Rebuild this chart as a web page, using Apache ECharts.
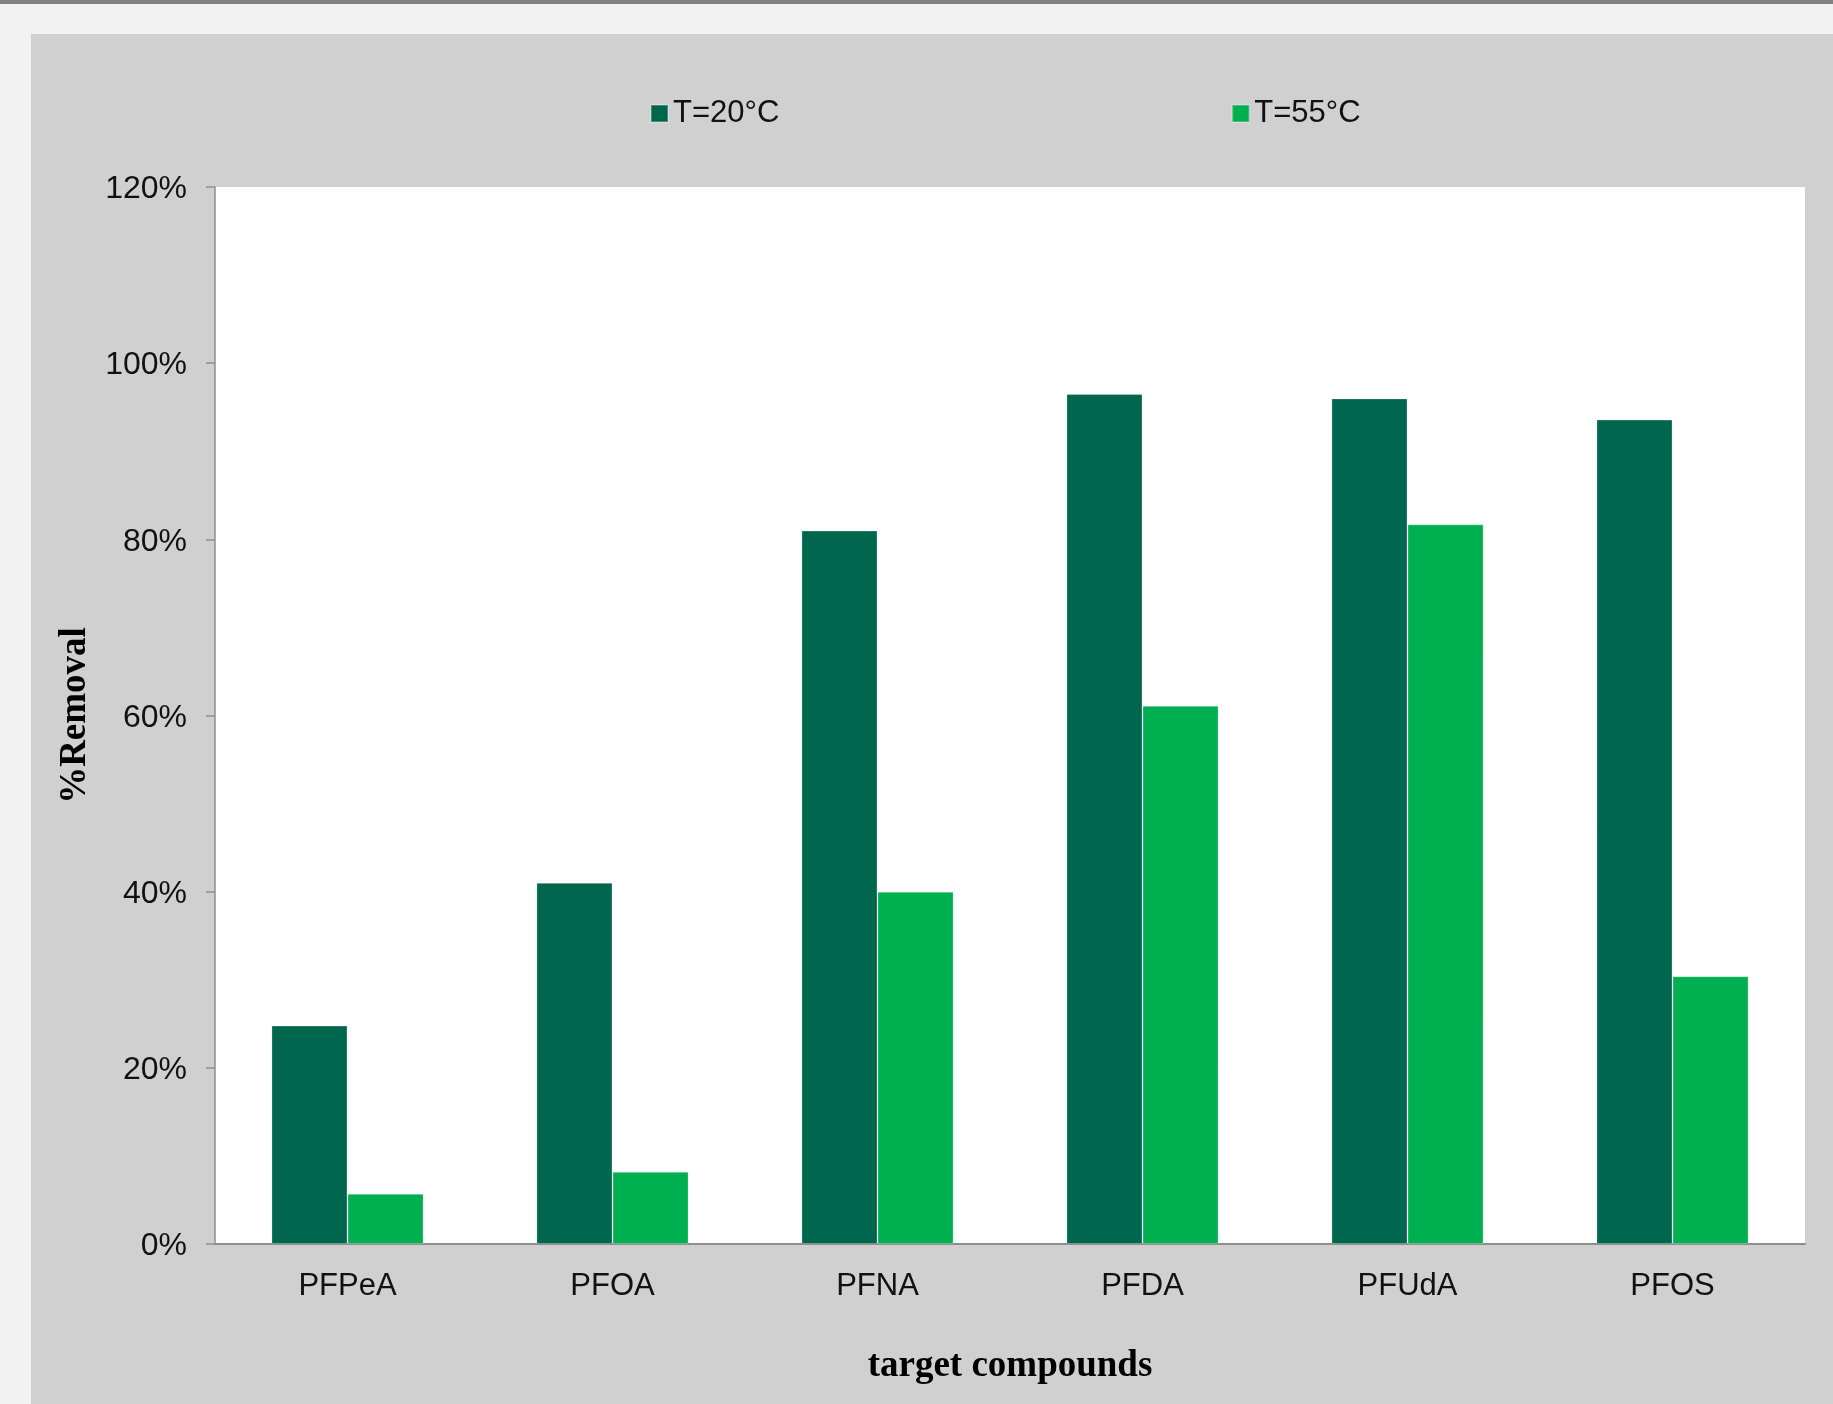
<!DOCTYPE html>
<html>
<head>
<meta charset="utf-8">
<script src="https://cdn.jsdelivr.net/npm/echarts@6/dist/echarts.min.js"></script>
<style>
  html, body { margin: 0; padding: 0; background: #f2f2f2; width: 1833px; height: 1404px; overflow: hidden; }
  #topbar { position: absolute; left: 0; top: 0; width: 1833px; height: 4px; background: #828282; }
  #chart { position: absolute; left: 31px; top: 34px; width: 1802px; height: 1370px; background: #d0d0d0; }
</style>
</head>
<body>
<div id="topbar"></div>
<div id="chart"></div>
<script>
// Compounds on the x axis
const compounds = ['PFPeA', 'PFOA', 'PFNA', 'PFDA', 'PFUdA', 'PFOS'];
// Removal (%) at each temperature
const removal20 = [24.8, 41.0, 81.0, 96.5, 96.0, 93.6];
const removal55 = [5.7, 8.2, 40.0, 61.1, 81.7, 30.4];
// Series names
const seriesNames = ['T=20°C', 'T=55°C'];
// Y axis range (percent)
const yMin = 0, yMax = 120, yStep = 20;

const sans = "'Liberation Sans', Arial, sans-serif";
const serif = "'Liberation Serif', 'Times New Roman', serif";
const axisGray = '#8e8e8e';

const chart = echarts.init(document.getElementById('chart'));
chart.setOption({
  backgroundColor: 'transparent',
  animation: false,
  legend: {
    left: 614,
    top: 59,
    itemWidth: 17,
    itemHeight: 17,
    itemGap: 452,
    icon: 'rect',
    textStyle: { fontFamily: sans, fontSize: 31, color: '#111' },
    data: seriesNames
  },
  grid: {
    left: 184, top: 153, right: 28, bottom: 160,
    show: true, backgroundColor: '#ffffff', borderWidth: 0
  },
  xAxis: {
    type: 'category',
    data: compounds,
    name: 'target compounds',
    nameLocation: 'middle',
    nameGap: 104,
    nameTextStyle: { fontFamily: serif, fontWeight: 'bold', fontSize: 37, color: '#000' },
    axisLine: { lineStyle: { color: axisGray, width: 2 } },
    axisTick: { show: false },
    axisLabel: { fontFamily: sans, fontSize: 31, color: '#111', margin: 27 }
  },
  yAxis: {
    type: 'value',
    min: yMin, max: yMax, interval: yStep,
    name: '%Removal',
    nameLocation: 'middle',
    nameRotate: 90,
    nameGap: 115,
    nameTextStyle: { fontFamily: serif, fontWeight: 'bold', fontSize: 37, color: '#000' },
    axisLine: { show: true, lineStyle: { color: axisGray, width: 1.5 } },
    axisTick: { show: true, length: 9, lineStyle: { color: axisGray, width: 1.5 } },
    splitLine: { show: false },
    axisLabel: {
      margin: 28,
      formatter: v => '{t|' + v + '%}',
      rich: {
        t: { fontFamily: sans, fontSize: 32, color: '#111', padding: [5, 0, 0, 0] }
      }
    }
  },
  series: [
    {
      name: seriesNames[0], type: 'bar', data: removal20,
      barGap: '0%', barCategoryGap: '42.6%',
      itemStyle: { color: '#00674e', borderColor: 'rgba(255,255,255,0.25)', borderWidth: 1 }
    },
    {
      name: seriesNames[1], type: 'bar', data: removal55,
      barGap: '0%', barCategoryGap: '42.6%',
      itemStyle: { color: '#00af50', borderColor: 'rgba(255,255,255,0.25)', borderWidth: 1 }
    }
  ]
});
</script>
</body>
</html>
